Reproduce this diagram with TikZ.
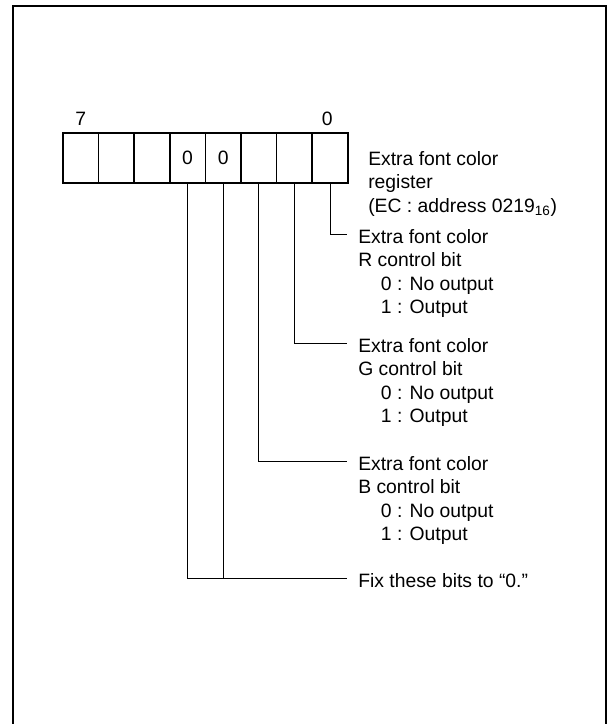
\documentclass[tikz,border=0pt]{standalone}
\usepackage{fontspec}
\setmainfont{Liberation Sans}
\usetikzlibrary{calc,positioning}
\newcommand{\optline}[1]{\hspace*{17pt}#1}

\begin{document}
\begin{tikzpicture}[
        x=0.75pt, y=-0.75pt,
        font=\fontsize{14.5}{17.6}\selectfont,
        cell/.style={draw, line width=1.3pt, minimum width=26.7pt, minimum height=37.5pt, inner sep=0pt, outer sep=0pt},
        lbl/.style={align=left, anchor=north west, inner sep=0pt},
        lead/.style={line width=0.6pt}
    ]
        \useasboundingbox (0,0) rectangle (609,724);
        \draw[line width=2.2pt] (13,724) -- (13,6) -- (606,6) -- (606,724);

        % register, bit 7 on the left
        \foreach \i/\t in {7/,6/,5/,4/0,3/0,2/,1/,0/}{
            \node[cell] (b\i) at ({80.8+35.6*(7-\i)},158) {\t};
        }
        \node[anchor=base] (hi) at ([yshift=6pt]b7.north) {7};
        \node[anchor=base] (lo) at ([xshift=-2pt, yshift=6pt]b0.north) {0};

        \node[lbl] (reg)    at (368,151) {Extra font color\\register\\(EC : address 0219\textsubscript{16})};
        \node[lbl] (lblr)   at (358,229) {Extra font color\\R control bit\\\optline{0 : No output}\\\optline{1 : Output}};
        \node[lbl] (lblg)   at (358,338) {Extra font color\\G control bit\\\optline{0 : No output}\\\optline{1 : Output}};
        \node[lbl] (lblb)   at (358,456) {Extra font color\\B control bit\\\optline{0 : No output}\\\optline{1 : Output}};
        \node[lbl] (lblfix) at (358,573) {Fix these bits to “0.”};

        \foreach \b/\l in {0/lblr, 1/lblg, 2/lblb}{\draw[lead] (b\b.south) |- ($(\l.north west)+(-11,5)$);}

        \coordinate (fixend) at ($(lblfix.north west)+(-11,5)$);
        \draw[lead] (b4.south) |- (fixend);
        \draw[lead] (b3.south) -- (b3.south |- fixend);
    \end{tikzpicture}
\end{document}
